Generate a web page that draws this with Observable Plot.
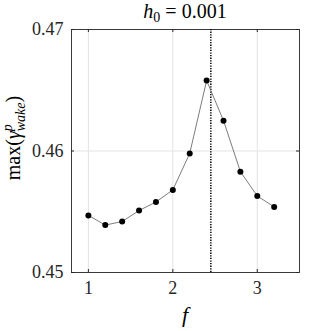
<!DOCTYPE html>
<html>
<head>
<meta charset="utf-8">
<script src="https://cdn.jsdelivr.net/npm/d3@7"></script>
<script src="https://cdn.jsdelivr.net/npm/@observablehq/plot@0.6"></script>
<style>
  html, body { margin: 0; padding: 0; background: #fff; }
</style>
</head>
<body>
<div id="chart"></div>
<script>
// Data
const fValues = [1.0, 1.2, 1.4, 1.6, 1.8, 2.0, 2.2, 2.4, 2.6, 2.8, 3.0, 3.2];
const gammaMax = [0.4547, 0.4539, 0.4542, 0.4551, 0.4558, 0.4568, 0.4598, 0.4658, 0.4625, 0.4583, 0.4563, 0.4554];
const markerF = [2.45];
const xTicks = [1, 2, 3];
const yTicks = [0.45, 0.46, 0.47];
const xDomain = [0.8, 3.5];
const yDomain = [0.45, 0.47];

const data = fValues.map((f, i) => ({f, g: gammaMax[i]}));

const W = 331, H = 331;
const mL = 71, mR = 32, mT = 29, mB = 59;
const frameW = W - mL - mR, frameH = H - mT - mB;
const tickLen = 3;
const axisColor = "#262626";
const gridColor = "#e3e3e3";

const chart = Plot.plot({
  width: W,
  height: H,
  marginLeft: mL,
  marginRight: mR,
  marginTop: mT,
  marginBottom: mB,
  style: {fontFamily: "'Liberation Serif', serif", fontSize: "18px", color: axisColor, background: "white"},
  x: {domain: xDomain, ticks: xTicks, tickSize: 0, tickPadding: 9, tickFormat: d => String(d), label: null},
  y: {domain: yDomain, ticks: yTicks, tickSize: 0, tickPadding: 8, tickFormat: d => d.toFixed(2), label: null},
  marks: [
    Plot.ruleX(xTicks, {stroke: gridColor, strokeWidth: 1}),
    Plot.ruleY(yTicks, {stroke: gridColor, strokeWidth: 1}),
    Plot.ruleX(xTicks, {stroke: axisColor, insetTop: frameH - tickLen}),
    Plot.ruleX(xTicks, {stroke: axisColor, insetBottom: frameH - tickLen}),
    Plot.ruleY(yTicks, {stroke: axisColor, insetRight: frameW - tickLen}),
    Plot.ruleY(yTicks, {stroke: axisColor, insetLeft: frameW - tickLen}),
    Plot.frame({stroke: axisColor, strokeWidth: 0.9}),
    Plot.ruleX(markerF, {stroke: "black", strokeWidth: 1.5, strokeDasharray: "1.3 1.3"}),
    Plot.line(data, {x: "f", y: "g", stroke: "#5a5a5a", strokeWidth: 0.8}),
    Plot.dot(data, {x: "f", y: "g", r: 3, fill: "black", stroke: "none"})
  ]
});

document.getElementById("chart").appendChild(chart);

const svg = d3.select(chart);
const cx = mL + frameW / 2;

// Title: h_0 = 0.001
const title = svg.append("text")
  .attr("x", cx).attr("y", 18)
  .attr("text-anchor", "middle")
  .attr("fill", "black")
  .style("font-family", "'Liberation Serif', serif")
  .style("font-size", "20px");
title.append("tspan").attr("font-style", "italic").text("h");
title.append("tspan").attr("dy", 4).style("font-size", "14px").text("0");
title.append("tspan").attr("dy", -4).text(" = 0.001");

// X label: f
svg.append("text")
  .attr("x", cx).attr("y", 322)
  .attr("text-anchor", "middle")
  .attr("fill", "black")
  .style("font-family", "'Liberation Serif', serif")
  .style("font-size", "22px")
  .style("font-style", "italic")
  .text("f");

// Y label: max(gamma^p_wake)
const yl = svg.append("text")
  .attr("transform", "translate(20,138) rotate(-90)")
  .attr("text-anchor", "middle")
  .attr("fill", "black")
  .style("font-family", "'Liberation Serif', serif")
  .style("font-size", "20px");
yl.append("tspan").text("max(");
yl.append("tspan").attr("font-style", "italic").text("γ");
yl.append("tspan").attr("font-style", "italic").attr("dy", -8).style("font-size", "14px").text("p");
yl.append("tspan").attr("font-style", "italic").attr("dx", -7).attr("dy", 13).style("font-size", "14px").text("wake");
yl.append("tspan").attr("dy", -5).text(")");
</script>
</body>
</html>
